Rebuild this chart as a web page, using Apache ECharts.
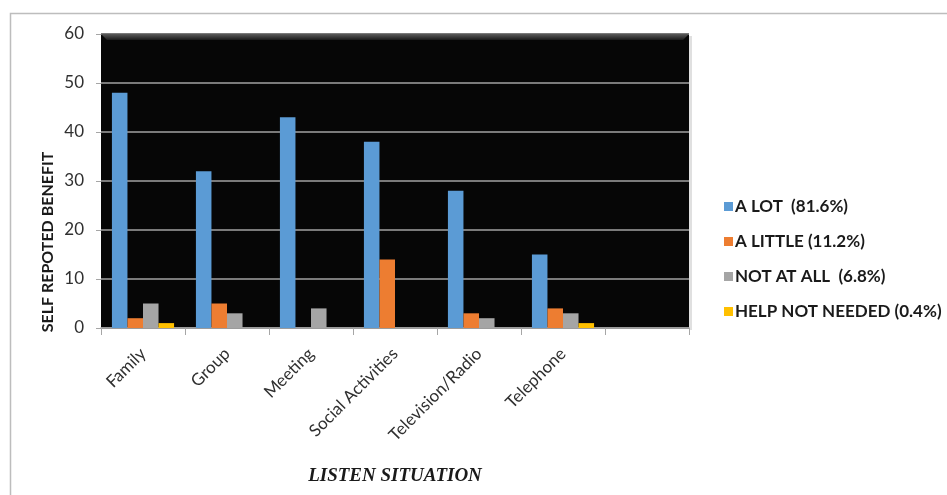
<!DOCTYPE html>
<html>
<head>
<meta charset="utf-8">
<script src="https://cdn.jsdelivr.net/npm/echarts@6/dist/echarts.min.js"></script>
<style>
  html, body { margin: 0; padding: 0; background: #ffffff; }
  #chart { width: 947px; height: 495px; }
</style>
</head>
<body>
<div id="chart"></div>
<script>
// Listening situations (the last slot is left empty on purpose)
const categories = ['Family', 'Group', 'Meeting', 'Social Activities', 'Television/Radio', 'Telephone', ''];

// Self-reported benefit per response group
const aLot        = [48, 32, 43, 38, 28, 15, null];
const aLittle     = [2, 5, 0, 14, 3, 4, null];
const notAtAll    = [5, 3, 4, 0, 2, 3, null];
const helpNotNeed = [1, 0, 0, 0, 0, 1, null];

const seriesNames = ['A LOT  (81.6%)', 'A LITTLE (11.2%)', 'NOT AT ALL  (6.8%)', 'HELP NOT NEEDED (0.4%)'];
const seriesData = [aLot, aLittle, notAtAll, helpNotNeed];
const colors = ['#5b9bd5', '#ed7d31', '#a5a5a5', '#ffc000'];

const yTicks = { min: 0, max: 60, interval: 10 };
const yTitle = 'SELF REPOTED BENEFIT';
const xTitle = 'LISTEN SITUATION';

const chart = echarts.init(document.getElementById('chart'), null, { renderer: 'canvas' });

const plot = { left: 101, right: 258, top: 34, bottom: 167 };

chart.setOption({
  backgroundColor: '#ffffff',
  animation: false,
  color: colors,
  graphic: [
    // outer chart frame
    {
      type: 'rect',
      shape: { x: 10.5, y: 13.5, width: 960, height: 500 },
      style: { fill: 'none', stroke: '#bdbdbd', lineWidth: 1.5 },
      silent: true, z: -10
    },
    // soft shadow on the plot area's right side
    {
      type: 'rect',
      shape: { x: 689, y: 36, width: 3, height: 294 },
      style: { fill: 'rgba(0,0,0,0.12)' },
      silent: true, z: -5
    },
    // bevelled top edge of the plot area
    {
      type: 'polygon',
      shape: { points: [[101, 34], [689, 34], [683, 40], [107, 40]] },
      style: {
        fill: new echarts.graphic.LinearGradient(0, 0, 0, 1, [
          { offset: 0, color: '#5a5a5a' },
          { offset: 1, color: '#1a1a1a' }
        ])
      },
      silent: true, z: 1
    },
    // vertical axis title, sitting low beside the axis
    {
      type: 'text',
      x: 48, y: 242,
      rotation: Math.PI / 2,
      style: {
        text: yTitle,
        fontFamily: 'Lato', fontWeight: 'bold', fontSize: 16,
        fill: '#1a1a1a', align: 'center', verticalAlign: 'middle'
      },
      silent: true
    }
  ],
  grid: {
    left: plot.left, right: plot.right, top: plot.top, bottom: plot.bottom,
    show: true, backgroundColor: '#060606', borderWidth: 0
  },
  legend: {
    orient: 'vertical',
    left: 719,
    top: 193,
    itemWidth: 9,
    itemHeight: 9,
    itemGap: 18,
    icon: 'rect',
    textStyle: { fontFamily: 'Lato', fontWeight: 'bold', fontSize: 17, color: '#1a1a1a', padding: [0, 0, 0, -3] },
    data: seriesNames
  },
  xAxis: {
    type: 'category',
    data: categories,
    name: xTitle,
    nameLocation: 'middle',
    nameGap: 139,
    nameTextStyle: { fontFamily: 'Liberation Serif', fontStyle: 'italic', fontWeight: 'bold', fontSize: 19, color: '#1a1a1a' },
    axisLine: { show: true, lineStyle: { color: '#a6a6a6', width: 1.5 } },
    axisTick: { show: true, length: 7, lineStyle: { color: '#a6a6a6' } },
    axisLabel: { rotate: 45, fontFamily: 'Lato', fontSize: 17, color: '#303030', margin: 23, interval: 0 },
    splitLine: { show: false }
  },
  yAxis: {
    type: 'value',
    min: yTicks.min, max: yTicks.max, interval: yTicks.interval,
    axisLine: { show: false },
    axisTick: { show: true, length: 5, lineStyle: { color: '#a6a6a6' } },
    axisLabel: { fontFamily: 'Lato', fontSize: 17, color: '#303030', margin: 17 },
    splitLine: { show: true, lineStyle: { color: '#7a7a7a', width: 2 } }
  },
  series: seriesNames.map((name, i) => ({
    name: name,
    type: 'bar',
    data: seriesData[i],
    barGap: '0%',
    barCategoryGap: '26%',
    itemStyle: { color: colors[i] },
    z: 2
  }))
});
</script>
</body>
</html>
